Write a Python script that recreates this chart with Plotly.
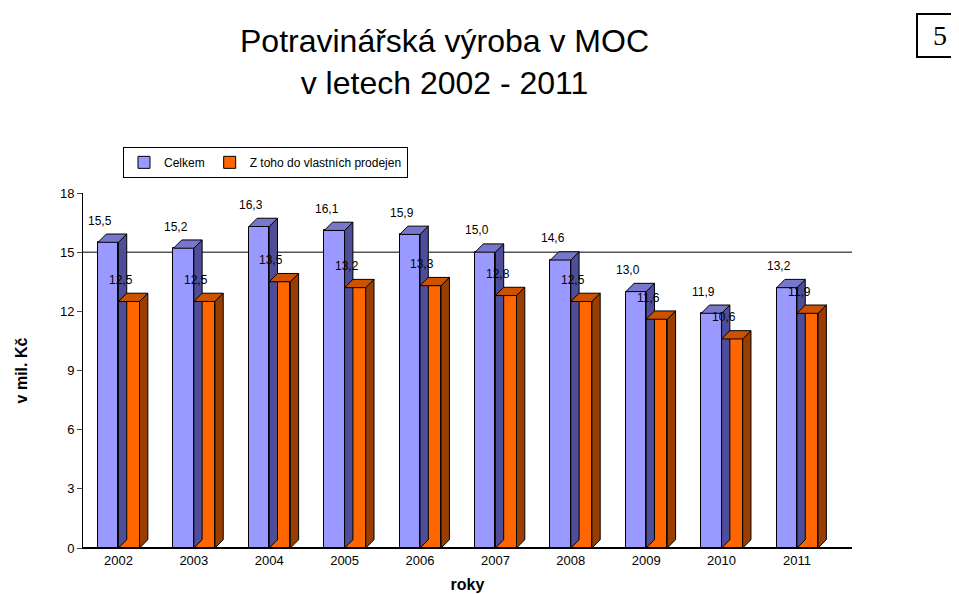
import plotly.graph_objects as go

years = [2002, 2003, 2004, 2005, 2006, 2007, 2008, 2009, 2010, 2011]
celkem = [15.5, 15.2, 16.3, 16.1, 15.9, 15.0, 14.6, 13.0, 11.9, 13.2]
prodej = [12.5, 12.5, 13.5, 13.2, 13.3, 12.8, 12.5, 11.6, 10.6, 11.9]

blue, blue_side, blue_top = "#9999FF", "#4D4D99", "#7777CC"
orange, orange_side, orange_top = "#FF6600", "#993D00", "#CC5200"
dx, dy = 0.11, 0.42

fig = go.Figure()
series = [("Celkem", celkem, -0.27, 0.27, blue, blue_side, blue_top),
          ("Z toho do vlastních prodejen", prodej, 0.0, 0.28, orange, orange_side, orange_top)]
for name, vals, off, w, col, side, top in series:
    fig.add_trace(go.Bar(x=years, y=vals, name=name, offset=off, width=w,
                         marker=dict(color=col, line=dict(color="black", width=1))))
    for yr, v in zip(years, vals):
        x0, x1 = yr + off, yr + off + w
        fig.add_shape(type="path", line=dict(color="black", width=1), fillcolor=side,
                      path=f"M{x1},0 L{x1+dx},{dy} L{x1+dx},{v+dy} L{x1},{v} Z")
        fig.add_shape(type="path", line=dict(color="black", width=1), fillcolor=top,
                      path=f"M{x0},{v} L{x1},{v} L{x1+dx},{v+dy} L{x0+dx},{v+dy} Z")
        fig.add_annotation(x=x0 + 0.03, y=v + 1.1, text=f"{v:.1f}".replace(".", ","),
                           showarrow=False, font=dict(size=12, color="black"))

fig.add_annotation(x=0.47, y=1.0, xref="paper", yref="paper", yanchor="top", yshift=172,
                   text="Potravinářská výroba v MOC<br>v letech 2002 - 2011", showarrow=False,
                   font=dict(size=32, color="#000", family="Arial"))
fig.add_annotation(x=1.145, y=1.0, xref="paper", yref="paper", yanchor="top", yshift=180,
                   text="5", showarrow=False, bordercolor="black", borderwidth=2, borderpad=5,
                   width=34, font=dict(size=28, family="Times New Roman", color="black"))
fig.add_shape(type="line", xref="paper", x0=0, x1=1, y0=15, y1=15,
              line=dict(color="black", width=1), layer="below")

fig.update_layout(
    width=959, height=594, plot_bgcolor="white", paper_bgcolor="white",
    margin=dict(l=75, r=115, t=185, b=54),
    font=dict(family="Arial", color="black", size=13),
    barmode="overlay", bargap=0,
    legend=dict(orientation="h", x=0.052, y=1.13, yanchor="top", bordercolor="black",
                borderwidth=1, font=dict(size=12), itemwidth=30, tracegroupgap=0),
    xaxis=dict(range=[2001.53, 2011.73], tickvals=years, showgrid=False, showline=True,
               linecolor="black", ticks="", title=dict(text="<b>roky</b>", standoff=12)),
    yaxis=dict(range=[0, 18], tickvals=[0, 3, 6, 9, 12, 15, 18], showgrid=False,
               showline=True, linecolor="black", ticks="outside", ticklen=5,
               zeroline=True, zerolinecolor="black",
               title=dict(text="<b>v mil. Kč</b>", standoff=28)),
)
fig.write_html("out.html")
